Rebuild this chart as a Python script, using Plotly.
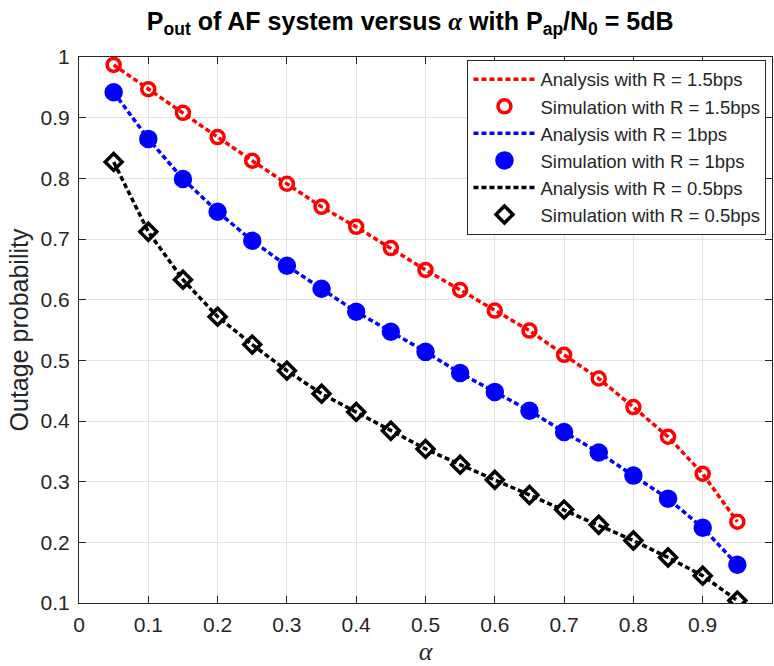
import plotly.graph_objects as go

alpha = [0.05, 0.10, 0.15, 0.20, 0.25, 0.30, 0.35, 0.40, 0.45, 0.50,
         0.55, 0.60, 0.65, 0.70, 0.75, 0.80, 0.85, 0.90, 0.95]

pout_r15 = [0.987, 0.947, 0.908, 0.868, 0.829, 0.791, 0.753, 0.720, 0.685, 0.649,
            0.616, 0.582, 0.549, 0.509, 0.470, 0.423, 0.374, 0.313, 0.234]
pout_r10 = [0.942, 0.865, 0.799, 0.745, 0.697, 0.656, 0.618, 0.580, 0.547, 0.514,
            0.479, 0.448, 0.417, 0.382, 0.348, 0.310, 0.272, 0.224, 0.163]
pout_r05 = [0.827, 0.712, 0.633, 0.572, 0.526, 0.483, 0.445, 0.415, 0.384, 0.354,
            0.328, 0.303, 0.278, 0.254, 0.229, 0.203, 0.175, 0.145, 0.104]

x_ticks = [0, 0.1, 0.2, 0.3, 0.4, 0.5, 0.6, 0.7, 0.8, 0.9, 1]
y_ticks = [0.1, 0.2, 0.3, 0.4, 0.5, 0.6, 0.7, 0.8, 0.9, 1]

series = [
    ("1.5bps", pout_r15, "#ff0000", "circle-open"),
    ("1bps", pout_r10, "#0000ff", "circle"),
    ("0.5bps", pout_r05, "#000000", "diamond-open"),
]

SANS = "Liberation Sans, Arial, sans-serif"
SERIF = "Liberation Serif, Times New Roman, serif"
INK = "#262626"

fig = go.Figure()
for rate, vals, color, symbol in series:
    fig.add_trace(go.Scatter(
        x=alpha, y=vals, mode="lines",
        line=dict(color=color, width=3.5, dash="5px,3px"),
        name=f"Analysis with R = {rate}",
    ))
    fig.add_trace(go.Scatter(
        x=alpha, y=vals, mode="markers",
        marker=dict(symbol=symbol, size=13 if symbol != "circle" else 15,
                    color=color, line=dict(color=color, width=3.5)),
        name=f"Simulation with R = {rate}",
    ))

axis_common = dict(
    showgrid=True, gridcolor="#e3e3e3", gridwidth=1,
    ticks="inside", ticklen=7, tickcolor=INK,
    showline=True, linecolor=INK, linewidth=1, mirror="ticks",
    zeroline=False,
    tickfont=dict(family=SANS, size=21, color=INK),
)

fig.update_xaxes(range=[0, 1], tickvals=x_ticks,
                 ticktext=[f"{v:g}" for v in x_ticks],
                 ticklabelstandoff=3,
                 title=dict(text="<i>α</i>", font=dict(family=SERIF, size=26, color=INK),
                            standoff=11),
                 **axis_common)
fig.update_yaxes(range=[0.1, 1], tickvals=y_ticks,
                 ticktext=[f"{v:g}" for v in y_ticks],
                 ticklabelstandoff=4,
                 title=dict(text="Outage probability",
                            font=dict(family=SANS, size=25, color=INK),
                            standoff=4),
                 **axis_common)

fig.update_layout(
    width=774, height=666,
    margin=dict(l=79, r=2, t=57, b=63),
    plot_bgcolor="white", paper_bgcolor="white",
    title=dict(
        text="<b>P<sub>out</sub> of AF system versus "
             f"<i style='font-family:{SERIF}'>α</i> "
             "with P<sub>ap</sub>/N<sub>0</sub> = 5dB</b>",
        xref="container", x=0.53, xanchor="center",
        yref="container", y=1 - 21 / 666, yanchor="middle",
        font=dict(family=SANS, size=25, color="#000000"),
    ),
    legend=dict(
        x=0.992, xanchor="right", y=0.995, yanchor="top",
        bgcolor="white", bordercolor=INK, borderwidth=1,
        font=dict(family=SANS, size=18.5, color=INK),
        itemwidth=62,
    ),
    showlegend=True,
)

fig.write_html("out.html")
